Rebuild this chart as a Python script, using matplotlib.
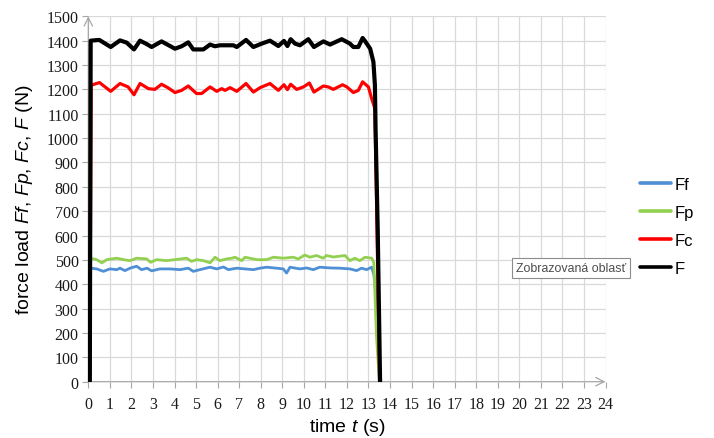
import matplotlib
matplotlib.use("Agg")
import matplotlib.pyplot as plt

# ---- data ----
t_Ff = [0.07, 0.11, 0.39, 0.70, 1.00, 1.32, 1.47, 1.70, 1.94, 2.24, 2.47, 2.73, 2.94, 3.32, 3.79, 4.25,
        4.64, 4.87, 5.18, 5.65, 5.96, 6.27, 6.50, 6.89, 7.27, 7.66, 7.97, 8.28, 8.74, 9.05, 9.20, 9.36,
        9.82, 10.13, 10.44, 10.74, 11.22, 11.68, 12.14, 12.45, 12.68, 12.91, 13.15, 13.25, 13.38, 13.50]
Ff = [0, 466, 463, 453, 463, 460, 466, 456, 466, 474, 460, 466, 455, 463, 463, 460,
      466, 453, 460, 470, 463, 471, 460, 466, 463, 460, 466, 470, 466, 463, 446, 470,
      463, 467, 460, 470, 467, 466, 463, 456, 466, 460, 470, 440, 330, 0]

t_Fp = [0.07, 0.11, 0.39, 0.63, 0.86, 1.32, 1.70, 1.94, 2.24, 2.71, 2.89, 3.17, 3.63, 4.02, 4.56, 4.79,
        5.02, 5.34, 5.65, 5.88, 6.11, 6.42, 6.66, 6.81, 7.12, 7.27, 7.82, 8.28, 8.59, 9.05, 9.51, 9.74,
        10.05, 10.28, 10.59, 10.90, 11.06, 11.37, 11.91, 12.14, 12.37, 12.60, 12.84, 13.15, 13.25, 13.37, 13.51]
Fp = [0, 507, 501, 488, 501, 507, 500, 497, 507, 504, 490, 501, 497, 501, 507, 494,
      501, 497, 488, 511, 497, 504, 507, 511, 497, 511, 501, 501, 511, 507, 511, 504,
      520, 511, 518, 507, 518, 512, 518, 497, 507, 497, 511, 507, 490, 190, 0]

t_Fc = [0.07, 0.13, 0.52, 1.04, 1.47, 1.85, 2.12, 2.40, 2.79, 3.09, 3.40, 3.71, 4.02, 4.33, 4.64, 5.02,
        5.26, 5.65, 5.96, 6.19, 6.35, 6.58, 6.89, 7.32, 7.66, 7.97, 8.43, 8.82, 9.08, 9.24, 9.39, 9.67,
        9.98, 10.26, 10.47, 10.91, 11.14, 11.37, 11.80, 12.00, 12.30, 12.53, 12.73, 13.00, 13.15, 13.30, 13.52]
Fc = [0, 1217, 1228, 1192, 1224, 1210, 1178, 1224, 1203, 1200, 1221, 1206, 1187, 1196, 1214, 1183,
      1183, 1210, 1192, 1203, 1196, 1207, 1192, 1224, 1189, 1207, 1224, 1196, 1219, 1199, 1221, 1200,
      1210, 1226, 1189, 1214, 1210, 1200, 1219, 1210, 1187, 1196, 1231, 1210, 1162, 1121, 0]

t_F = [0.07, 0.11, 0.51, 1.04, 1.47, 1.78, 2.12, 2.40, 2.71, 2.94, 3.40, 3.71, 4.02, 4.33, 4.64, 4.87,
       5.34, 5.65, 5.88, 6.11, 6.73, 6.89, 7.32, 7.66, 8.05, 8.43, 8.82, 9.08, 9.24, 9.39, 9.59, 9.82,
       10.21, 10.47, 10.91, 11.22, 11.76, 12.14, 12.30, 12.53, 12.73, 12.85, 13.08, 13.23, 13.30, 13.33, 13.43, 13.54]
F = [0, 1400, 1403, 1374, 1401, 1392, 1364, 1400, 1386, 1374, 1397, 1382, 1367, 1377, 1393, 1364,
     1364, 1384, 1377, 1381, 1381, 1374, 1403, 1374, 1388, 1400, 1378, 1399, 1378, 1406, 1388, 1381,
     1406, 1374, 1397, 1384, 1406, 1388, 1374, 1374, 1411, 1397, 1367, 1313, 1217, 1040, 626, 0]

series_labels = ["Ff", "Fp", "Fc", "F"]
x_ticks = list(range(0, 25))
y_ticks = list(range(0, 1501, 100))

# ---- style ----
plt.rcParams["mathtext.fontset"] = "custom"
plt.rcParams["mathtext.rm"] = "Liberation Sans"
plt.rcParams["mathtext.it"] = "Liberation Sans:italic"

fig = plt.figure(figsize=(7.14, 4.39), dpi=100)
ax = fig.add_axes([88.3 / 714, 1 - 382.7 / 439, (605.5 - 88.3) / 714, (382.7 - 17.3) / 439])

colors = ["#4f8fd6", "#92d050", "#ff0000", "#000000"]
widths = [2.0, 2.0, 2.3, 3.0]
data = [(t_Ff, Ff), (t_Fp, Fp), (t_Fc, Fc), (t_F, F)]
for (tt, vv), c, w, lab in zip(data, colors, widths, series_labels):
    ax.plot(tt, vv, color=c, lw=w, label=lab, solid_joinstyle="round", solid_capstyle="round", zorder=3)

ax.set_xlim(0, 24)
ax.set_ylim(0, 1500)
ax.set_xticks(x_ticks)
ax.set_yticks(y_ticks)
ax.grid(True, color="#d9d9d9", lw=0.9, zorder=0)
ax.set_axisbelow(True)
for s in ax.spines.values():
    s.set_visible(False)

gc = "#a6a6a6"
ax.annotate("", xy=(1.0, 0), xytext=(0, 0), xycoords="axes fraction",
            arrowprops=dict(arrowstyle="->,head_length=0.6,head_width=0.3", color=gc, lw=0.9,
                            shrinkA=0, shrinkB=0), zorder=2)
ax.annotate("", xy=(0, 1.0), xytext=(0, 0), xycoords="axes fraction",
            arrowprops=dict(arrowstyle="->,head_length=0.6,head_width=0.3", color=gc, lw=0.9,
                            shrinkA=0, shrinkB=0), zorder=2)

ax.tick_params(axis="both", length=4, width=0.8, color=gc, labelcolor="#1a1a1a")
ax.tick_params(axis="y", pad=3)
ax.tick_params(axis="x", pad=6)
for lbl in ax.get_xticklabels() + ax.get_yticklabels():
    lbl.set_fontfamily("Liberation Serif")
    lbl.set_fontsize(11.5)

ax.set_xlabel(r"time $t$ (s)", fontfamily="Liberation Sans", fontsize=14, labelpad=3)
ax.set_ylabel(r"force load $Ff$, $Fp$, $Fc$, $F$ (N)", fontfamily="Liberation Sans", fontsize=14, labelpad=8)

leg = ax.legend(loc="upper left", bbox_to_anchor=(640 / 714, 1 - 178 / 439), bbox_transform=fig.transFigure,
                frameon=False, prop={"family": "Liberation Sans", "size": 12},
                handlelength=1.85, handletextpad=0.2, labelspacing=0.78, borderpad=0, borderaxespad=0)
for h in leg.get_lines():
    h.set_linewidth(2.6)

fig.text(516 / 714, 1 - 269 / 439, "Zobrazovaná oblasť", fontfamily="Liberation Sans", fontsize=8.9,
         color="#4d4d4d", va="center", ha="left",
         bbox=dict(boxstyle="square,pad=0.3", fc="white", ec="#8c8c8c", lw=0.8))

fig.savefig("out.png", dpi=100)
